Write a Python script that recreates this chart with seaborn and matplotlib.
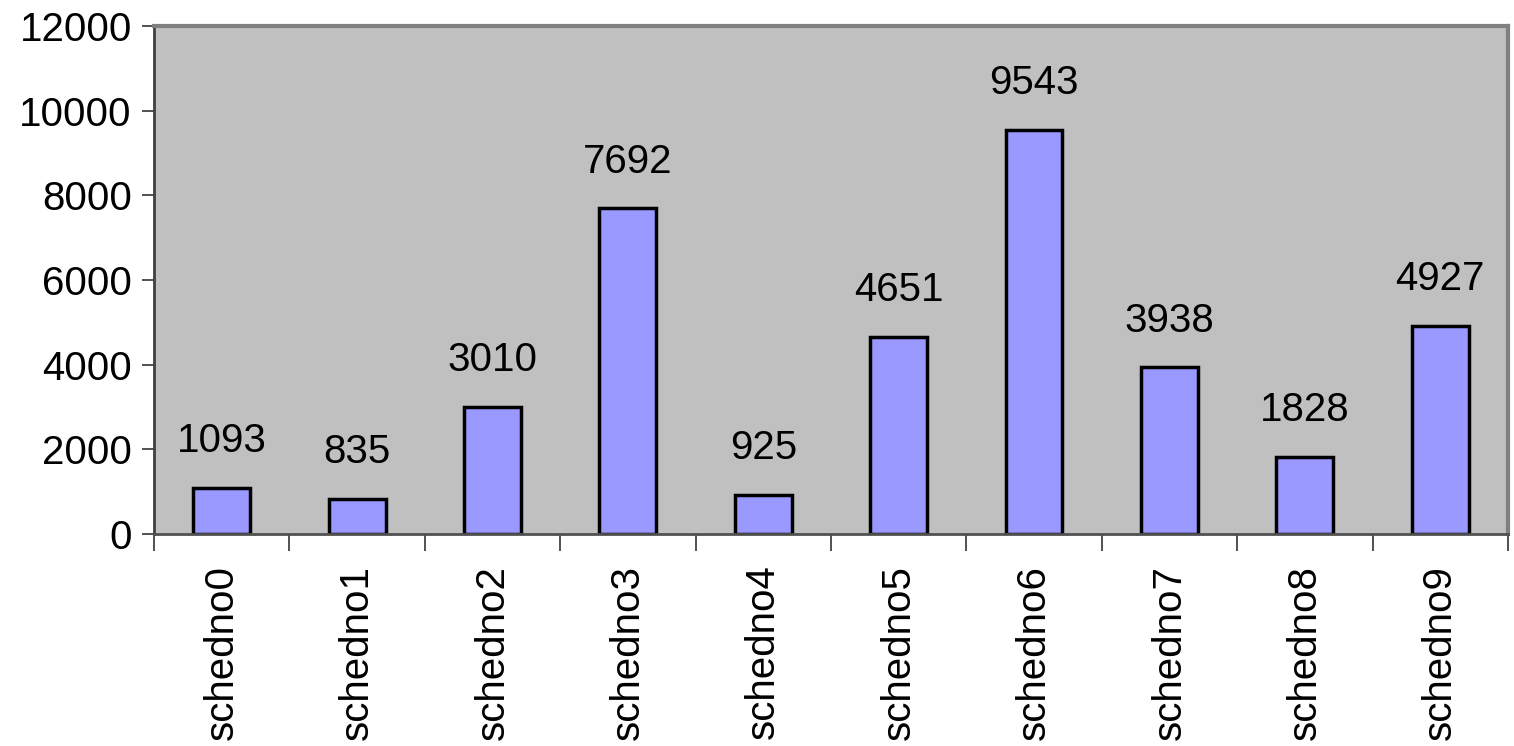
import numpy as np
import pandas as pd
import matplotlib
matplotlib.use("Agg")
import matplotlib.pyplot as plt
import seaborn as sns

categorias = ['schedno0', 'schedno1', 'schedno2', 'schedno3', 'schedno4',
              'schedno5', 'schedno6', 'schedno7', 'schedno8', 'schedno9']
valores = [1093, 835, 3010, 7692, 925, 4651, 9543, 3938, 1828, 4927]
y_ticks = [0, 2000, 4000, 6000, 8000, 10000, 12000]

df = pd.DataFrame({'cat': categorias, 'valor': valores})

sns.set_style('white', {'xtick.bottom': True, 'ytick.left': True,
                        'text.color': 'black', 'xtick.color': 'black',
                        'ytick.color': 'black'})
plt.rcParams['font.family'] = ['Liberation Sans', 'DejaVu Sans']

fig = plt.figure(figsize=(15.14, 7.46), dpi=100)
ax = fig.add_axes([0.1017, 0.284, 0.8943, 0.681])
ax.set_facecolor('#C0C0C0')

sns.barplot(data=df, x='cat', y='valor', color='#9999FF', edgecolor='black',
            linewidth=2.5, width=0.42, saturation=1, ax=ax)

ax.bar_label(ax.containers[0], labels=[str(v) for v in valores],
             padding=20, fontsize=29, color='black')

ax.set_xlim(-0.5, len(categorias) - 0.5)
ax.set_ylim(0, 12000)
ax.set_yticks(y_ticks)
ax.set_yticklabels([str(t) for t in y_ticks], fontsize=29)
ax.set_xticks(range(len(categorias)))
ax.set_xticklabels(categorias, rotation=90, fontsize=29)
ax.set_xticks(np.arange(-0.5, len(categorias)), minor=True)
ax.tick_params(axis='x', which='major', length=0, pad=22, labelcolor='black')
ax.tick_params(axis='x', which='minor', length=12, width=1.2, color='#333333',
               direction='out', bottom=True)
ax.tick_params(axis='y', length=9, width=1.2, color='#333333', direction='out',
               pad=7, left=True, labelcolor='black')
ax.set_xlabel('')
ax.set_ylabel('')

for lado in ['top', 'right']:
    ax.spines[lado].set_color('#808080')
    ax.spines[lado].set_linewidth(3)
ax.spines['left'].set_color('#404040')
ax.spines['left'].set_linewidth(2)
ax.spines['bottom'].set_color('#505050')
ax.spines['bottom'].set_linewidth(2)

fig.savefig('out.png', dpi=100)
